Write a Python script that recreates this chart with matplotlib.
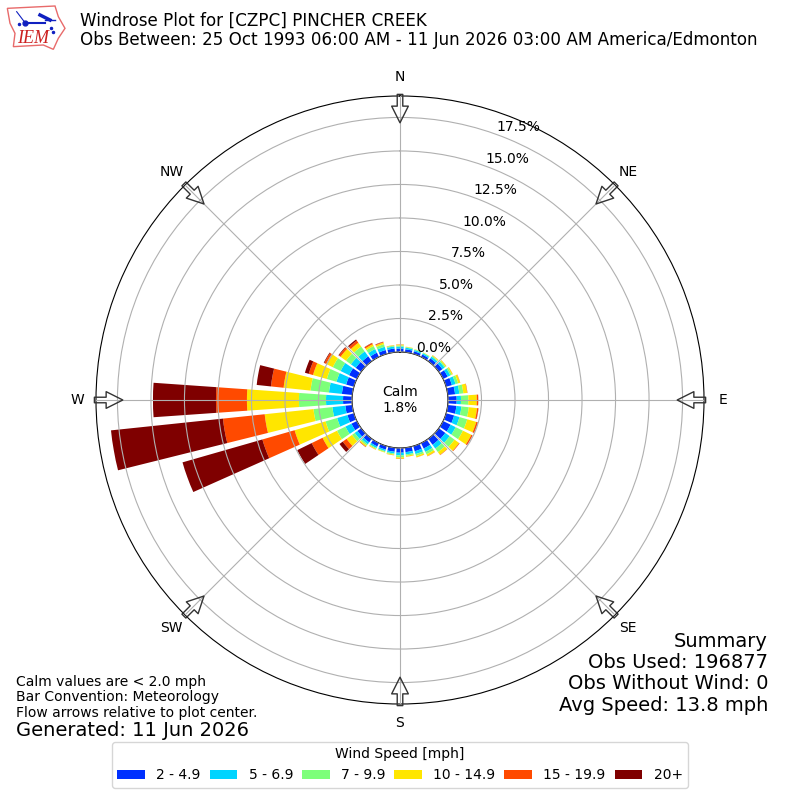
import numpy as np
import matplotlib
matplotlib.use("Agg")
import matplotlib.pyplot as plt
from matplotlib.patches import Polygon, Rectangle

# percent of obs per direction bin (0, 10, ... 350 deg)
directions = np.arange(0, 360, 10)
speed_labels = ["2 - 4.9", "5 - 6.9", "7 - 9.9", "10 - 14.9", "15 - 19.9", "20+"]
colors = ["#0030ff", "#00d4ff", "#7dff7a", "#ffe600", "#ff4a00", "#7f0000"]
s2_5 = [.26, .22, .2, .2, .27, .33, .38, .45, .55, .65, .65, .62, .62, .6, .55, .45, .4, .33,
        .35, .3, .27, .28, .33, .35, .45, .5, .52, .67, .78, .6, .65, .5, .45, .35, .3, .28]
s5_7 = [.15, .12, .1, .1, .15, .2, .22, .28, .32, .32, .38, .42, .42, .4, .35, .28, .22, .17,
        .2, .13, .12, .13, .18, .25, .5, .8, .97, 1.27, .97, .75, .7, .45, .45, .3, .25, .15]
s7_10 = [.08, .05, .05, .05, .08, .1, .12, .2, .3, .55, .55, .6, .6, .45, .33, .2, .15, .1,
         .15, .08, .07, .08, .12, .25, .7, .9, 1.42, 2.02, 1.38, .75, .65, .45, .45, .25, .2, .07]
s10_15 = [.06, .03, .02, .02, .05, .07, .08, .15, .28, .63, .62, .7, .7, .42, .25, .15, .1, .07,
          .1, .05, .04, .05, .1, .5, 1.2, 2.4, 3.66, 3.88, 2.02, 1.07, .55, .5, .35, .15, .13, .03]
s15_20 = [.02, 0, 0, 0, .01, .01, .01, .02, .03, .1, .1, .12, .1, .05, .03, .02, .01, .01,
          .02, .01, 0, .01, .03, .35, .9, 2.5, 3.13, 2.31, .95, .33, .15, .15, .2, .1, .05, .01]
s20 = [0, 0, 0, 0, 0, 0, 0, 0, 0, .01, .01, .01, .01, 0, 0, 0, 0, 0,
       0, 0, 0, 0, .01, .3, 1.2, 6.2, 8.4, 4.7, 1.07, .3, .05, .05, .1, .02, .02, 0]
bins = [s2_5, s5_7, s7_10, s10_15, s15_20, s20]
rticks = [0, 2.5, 5, 7.5, 10, 12.5, 15, 17.5]
compass = ["N", "NE", "E", "SE", "S", "SW", "W", "NW"]

fig = plt.figure(figsize=(8, 8), dpi=100)
ax = fig.add_axes([0.12, 0.12, 0.76, 0.76], polar=True)
ax.set_theta_zero_location("N")
ax.set_theta_direction(-1)

theta = np.deg2rad(directions)
bottom = np.zeros(36)
for vals, col, lab in zip(bins, colors, speed_labels):
    vals = np.array(vals)
    ax.bar(theta, vals, width=np.deg2rad(8), bottom=bottom, color=col, label=lab, zorder=2)
    bottom += vals

ax.set_rorigin(-3.58)
ax.set_ylim(0, 19.1)
ax.set_yticks(rticks)
ax.set_yticklabels(["%.1f%%" % t for t in rticks])
ax.set_rlabel_position(20)
ax.set_thetagrids(np.arange(0, 360, 45), compass)
ax.tick_params(axis="x", pad=3)
ax.grid(True, zorder=3)
ax.set_axisbelow(False)

# flow arrows around the edge
for ang in np.arange(0, 360, 45):
    ax.annotate("", xy=(np.deg2rad(ang), 17.1), xytext=(np.deg2rad(ang), 19.22),
                arrowprops=dict(facecolor="none", edgecolor="#333333", width=4, headwidth=12,
                                headlength=12, lw=1), zorder=5, annotation_clip=False)

fig.text(0.5, 0.5, "Calm\n1.8%", ha="center", va="center", fontsize=10)

fig.text(0.1, 0.985, "Windrose Plot for [CZPC] PINCHER CREEK", fontsize=12.02, va="top")
fig.text(0.1, 0.9612, "Obs Between: 25 Oct 1993 06:00 AM - 11 Jun 2026 03:00 AM America/Edmonton",
         fontsize=12.02, va="top")

fig.text(0.96, 0.1065, "Summary\nObs Used: 196877\nObs Without Wind: 0\nAvg Speed: 13.8 mph",
         ha="right", va="bottom", fontsize=14, linespacing=1.16)
fig.text(0.02, 0.1, "Calm values are < 2.0 mph\nBar Convention: Meteorology\nFlow arrows relative to plot center.",
         fontsize=10, va="bottom", linespacing=1.15)
fig.text(0.02, 0.0875, "Generated: 11 Jun 2026", fontsize=14, va="center")

handles = [Rectangle((0, 0), 1, 1, facecolor=c, linewidth=0) for c in colors]
fig.legend(handles, speed_labels, title="Wind Speed [mph]", ncol=6, loc="lower center",
           bbox_to_anchor=(0.5, 0.0065), fontsize=10, title_fontsize=10, columnspacing=0.65)

# IEM logo
lg = fig.add_axes([0, 1 - 55 / 800, 70 / 800, 55 / 800])
lg.set_xlim(0, 210)
lg.set_ylim(165, 0)
lg.axis("off")
lg.add_patch(Polygon([(22, 25), (165, 18), (175, 50), (195, 85), (175, 115), (160, 148),
                      (130, 135), (40, 140), (45, 100), (30, 70)], fill=False, edgecolor="#e86a6a", lw=1))
lg.plot([75, 135], [70, 70], color="#1020c0", lw=1.5)
lg.plot([120, 150], [45, 60], color="#1020c0", lw=2.5)
lg.plot([135, 165], [60, 60], color="#1020c0", lw=1)
lg.plot([50, 75], [35, 68], color="#1020c0", lw=0.8)
lg.plot([75], [70], "o", color="#1020c0", ms=3.5)
lg.plot([58, 152, 158], [72, 85, 95], ".", color="#1020c0", ms=3)
lg.text(52, 128, "IEM", color="#cc2020", family="Liberation Serif", style="italic", fontsize=13)

fig.savefig("out.png", dpi=100)
